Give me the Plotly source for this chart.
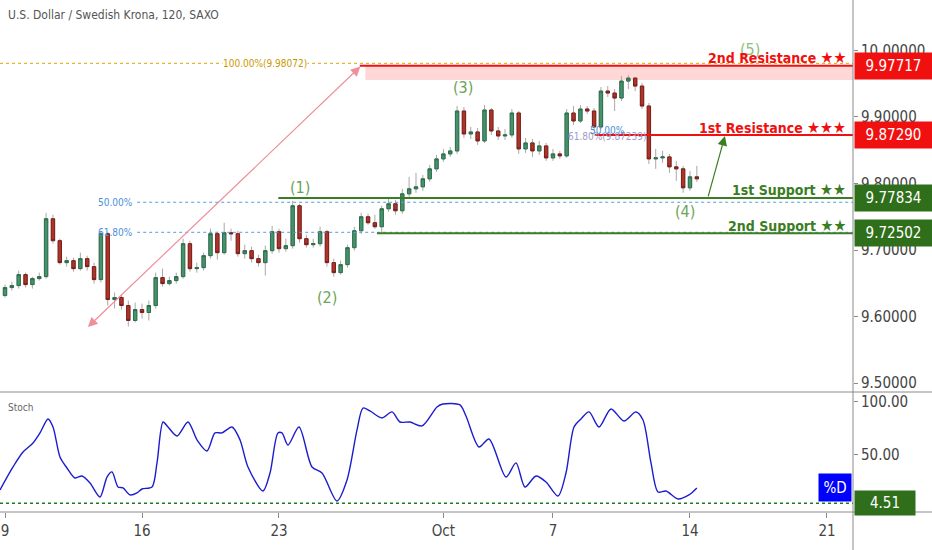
import plotly.graph_objects as go

# USD/SEK 2h chart, resampled to 6h candles
title_text = "U.S. Dollar / Swedish Krona, 120, SAXO"

bars = list(range(102))
opens = [9.6315, 9.6435, 9.6465, 9.663, 9.648, 9.657, 9.660, 9.747, 9.714, 9.681,
         9.684, 9.672, 9.687, 9.675, 9.6555, 9.7245, 9.6255, 9.6285, 9.6165, 9.594,
         9.6105, 9.606, 9.6165, 9.6585, 9.6495, 9.654, 9.660, 9.7095, 9.672, 9.6735,
         9.6915, 9.7245, 9.696, 9.726, 9.7245, 9.6945, 9.699, 9.687, 9.681, 9.699,
         9.7275, 9.702, 9.7065, 9.7665, 9.717, 9.708, 9.7095, 9.7275, 9.681, 9.666,
         9.678, 9.7035, 9.729, 9.750, 9.741, 9.735, 9.762, 9.7695, 9.759, 9.7845,
         9.792, 9.795, 9.807, 9.822, 9.837, 9.8445, 9.849, 9.909, 9.8745, 9.8775,
         9.864, 9.9105, 9.879, 9.8715, 9.873, 9.906, 9.852, 9.861, 9.849, 9.8565,
         9.8385, 9.8445, 9.8415, 9.906, 9.894, 9.912, 9.909, 9.885, 9.939, 9.936,
         9.9285, 9.954, 9.9585, 9.9465, 9.9165, 9.837, 9.8385, 9.840, 9.825, 9.822,
         9.7935, 9.810]
highs = [9.648, 9.6525, 9.669, 9.666, 9.660, 9.666, 9.756, 9.753, 9.717, 9.690,
         9.6885, 9.696, 9.6915, 9.681, 9.729, 9.7275, 9.636, 9.633, 9.624, 9.621,
         9.6195, 9.624, 9.666, 9.672, 9.660, 9.666, 9.717, 9.714, 9.681, 9.696,
         9.732, 9.7275, 9.741, 9.732, 9.729, 9.708, 9.705, 9.693, 9.7065, 9.7365,
         9.732, 9.717, 9.774, 9.7695, 9.723, 9.717, 9.735, 9.7305, 9.687, 9.684,
         9.708, 9.735, 9.756, 9.7545, 9.753, 9.7665, 9.780, 9.7755, 9.792, 9.810,
         9.816, 9.813, 9.828, 9.843, 9.852, 9.855, 9.9165, 9.915, 9.885, 9.8835,
         9.918, 9.9135, 9.885, 9.882, 9.912, 9.909, 9.8685, 9.867, 9.864, 9.861,
         9.852, 9.849, 9.912, 9.9165, 9.918, 9.9165, 9.9135, 9.945, 9.9465, 9.942,
         9.9615, 9.963, 9.960, 9.951, 9.921, 9.852, 9.849, 9.8445, 9.834, 9.8265,
         9.819, 9.8265]
lows = [9.6285, 9.639, 9.642, 9.6435, 9.642, 9.654, 9.657, 9.7095, 9.678, 9.675,
        9.6675, 9.669, 9.669, 9.6495, 9.651, 9.6165, 9.612, 9.6105, 9.585, 9.591,
        9.597, 9.594, 9.612, 9.645, 9.6465, 9.6495, 9.657, 9.6675, 9.666, 9.669,
        9.687, 9.6855, 9.693, 9.714, 9.690, 9.687, 9.681, 9.675, 9.6615, 9.6945,
        9.696, 9.6975, 9.702, 9.711, 9.7035, 9.7035, 9.705, 9.675, 9.660, 9.663,
        9.6735, 9.699, 9.7245, 9.738, 9.732, 9.7245, 9.7575, 9.753, 9.7545, 9.780,
        9.786, 9.789, 9.8025, 9.8175, 9.8325, 9.840, 9.8445, 9.8685, 9.867, 9.858,
        9.861, 9.873, 9.8655, 9.8655, 9.8685, 9.8445, 9.846, 9.840, 9.843, 9.834,
        9.834, 9.837, 9.8385, 9.888, 9.891, 9.9045, 9.8805, 9.882, 9.930, 9.909,
        9.924, 9.942, 9.939, 9.912, 9.8295, 9.822, 9.831, 9.816, 9.804, 9.786,
        9.789, 9.8025]
closes = [9.6435, 9.6465, 9.663, 9.648, 9.657, 9.660, 9.747, 9.714, 9.681, 9.684,
          9.672, 9.687, 9.675, 9.6555, 9.7245, 9.6255, 9.6285, 9.6165, 9.594, 9.6105,
          9.606, 9.6165, 9.6585, 9.6495, 9.654, 9.660, 9.7095, 9.672, 9.6735, 9.6915,
          9.7245, 9.696, 9.726, 9.7245, 9.6945, 9.699, 9.687, 9.681, 9.699, 9.7275,
          9.702, 9.7065, 9.7665, 9.717, 9.708, 9.7095, 9.7275, 9.681, 9.666, 9.678,
          9.7035, 9.729, 9.750, 9.741, 9.735, 9.762, 9.7695, 9.759, 9.7845, 9.792,
          9.795, 9.807, 9.822, 9.837, 9.8445, 9.849, 9.909, 9.8745, 9.8775, 9.864,
          9.9105, 9.879, 9.8715, 9.873, 9.906, 9.852, 9.861, 9.849, 9.8565, 9.8385,
          9.8445, 9.8415, 9.906, 9.894, 9.912, 9.909, 9.885, 9.939, 9.936, 9.9285,
          9.954, 9.9585, 9.9465, 9.9165, 9.837, 9.8385, 9.840, 9.825, 9.822, 9.7935,
          9.810, 9.807]

# stochastic %D line
stoch_x = [-0.73, 1.17, 2.63, 4.09, 5.11, 6.28, 7.01, 8.03, 9.05, 10.22,
           11.24, 12.41, 13.87, 14.89, 15.62, 16.5, 17.23, 18.25, 19.27, 20.0,
           21.46, 22.19, 23.07, 23.8, 25.11, 26.72, 28.03, 29.49, 30.66, 31.68,
           33.14, 34.31, 35.47, 37.66, 38.69, 39.85, 40.44, 41.31, 42.92, 44.82,
           46.28, 48.47, 49.93, 51.39, 52.26, 53.28, 55.04, 56.5, 57.66, 59.12,
           60.88, 63.07, 63.94, 66.42, 67.3, 69.2, 70.66, 73.14, 74.6, 75.91,
           77.52, 78.98, 80.73, 81.9, 83.07, 84.09, 85.26, 86.72, 88.47, 90.36,
           92.12, 93.14, 94.31, 95.33, 96.5, 98.25, 99.85, 101.0]
stoch_v = [17.0, 38.7, 52.8, 61.3, 70.8, 84.0, 76.4, 48.1, 37.7, 28.3,
           30.2, 23.6, 10.4, 29.2, 34.0, 19.8, 18.9, 12.3, 14.2, 17.9,
           19.8, 42.5, 81.1, 76.4, 67.9, 81.1, 64.2, 53.8, 70.8, 70.8,
           76.4, 64.2, 38.7, 16.0, 33.0, 70.8, 70.8, 59.4, 76.4, 38.7,
           33.0, 6.6, 26.4, 73.6, 94.3, 91.5, 84.9, 90.6, 81.1, 81.1,
           77.4, 95.3, 98.1, 97.2, 86.8, 57.5, 65.1, 29.2, 42.5, 19.8,
           30.2, 24.5, 11.3, 33.0, 76.4, 84.0, 90.6, 76.4, 93.4, 82.1,
           90.6, 83.0, 42.5, 15.1, 16.0, 8.5, 12.3, 18.9]
stoch_level = 4.51

tick_bars = [0, 20, 40, 64, 80, 100, 120]
tick_text = ["9", "16", "23", "Oct", "7", "14", "21"]
price_ticks = [9.5, 9.6, 9.7, 9.8, 9.9, 10.0]
stoch_ticks = [50, 100]

# support / resistance levels
levels = [9.97717, 9.87290, 9.77834, 9.72502]
level_names = ["2nd Resistance", "1st Resistance", "1st Support", "2nd Support"]
level_stars = ["★★", "★★★", "★★", "★★"]
level_start = [51.8, 86.1, 39.9, 54.3]
zone_start = 52.6
zone_bottom = 9.9556

# fibonacci
fib_top = 9.98072
fib_levels = [9.7718, 9.7266]
fib_names = ["50.00%", "61.80%"]
fib_start = 19.3
fib2_levels = [9.8793, 9.8700]
fib2_names = ["50.00%", "61.80%(9.87239)"]
fib2_x = 87.9

# elliott wave labels
waves = ["(1)", "(2)", "(3)", "(4)", "(5)"]
wave_x = [43.1, 47.0, 66.9, 99.3, 108.8]
wave_y = [9.7947, 9.6293, 9.9436, 9.7586, 10.0008]

pink_arrow = [(12.1, 9.5842), (52.1, 9.978)]
green_arrow = [(102.6, 9.7784), (105.1, 9.8714)]

X_MIN, X_MAX = -0.73, 123.8
NARROW = "Liberation Sans Narrow, DejaVu Sans Condensed, Roboto Condensed, Roboto, sans-serif"
RED = "#f01010"
GREEN = "#3a7d22"
SPLIT = 120 / 512

fig = go.Figure()

# grey wicks underneath, coloured bodies on top
fig.add_trace(go.Candlestick(
    x=bars, open=opens, high=highs, low=lows, close=closes,
    increasing=dict(line=dict(color="#a8a8a8", width=1), fillcolor="#a8a8a8"),
    decreasing=dict(line=dict(color="#a8a8a8", width=1), fillcolor="#a8a8a8"),
    whiskerwidth=0, showlegend=False, hoverinfo="skip"))
fig.add_trace(go.Candlestick(
    x=bars, open=opens, close=closes,
    high=[max(o, c) for o, c in zip(opens, closes)],
    low=[min(o, c) for o, c in zip(opens, closes)],
    increasing=dict(line=dict(color="#2f6e4c", width=1), fillcolor="#44936a"),
    decreasing=dict(line=dict(color="#7a1f1a", width=1), fillcolor="#b03328"),
    whiskerwidth=0, showlegend=False))

fig.add_trace(go.Scatter(
    x=stoch_x, y=stoch_v, yaxis="y2", mode="lines",
    line=dict(color="#1c1ccf", width=1.4, shape="spline", smoothing=0.8),
    showlegend=False))

shapes = []
shapes.append(dict(type="rect", xref="x", yref="y", x0=zone_start, x1=X_MAX,
                   y0=zone_bottom, y1=levels[0], fillcolor="rgba(255,140,140,0.35)",
                   line=dict(width=0), layer="below"))
shapes.append(dict(type="line", xref="x", yref="y", x0=X_MIN, x1=X_MAX, y0=fib_top, y1=fib_top,
                   line=dict(color="#d9a400", width=1, dash="dot")))
for lv in fib_levels:
    shapes.append(dict(type="line", xref="x", yref="y", x0=fib_start, x1=X_MAX, y0=lv, y1=lv,
                       line=dict(color="#5b9bd5", width=1, dash="dot")))
for i, lv in enumerate(levels):
    shapes.append(dict(type="line", xref="x", yref="y", x0=level_start[i], x1=X_MAX, y0=lv, y1=lv,
                       line=dict(color=RED if i < 2 else GREEN, width=2)))
shapes.append(dict(type="line", xref="x", yref="y2", x0=X_MIN, x1=X_MAX,
                   y0=stoch_level, y1=stoch_level,
                   line=dict(color="#1e7a1e", width=1.5, dash="dot")))
# pane frame
shapes.append(dict(type="line", xref="paper", yref="paper", x0=0, x1=932 / 853, y0=SPLIT, y1=SPLIT,
                   line=dict(color="#8a8a8a", width=1)))
shapes.append(dict(type="line", xref="paper", yref="paper", x0=0, x1=932 / 853, y0=0, y1=0,
                   line=dict(color="#8a8a8a", width=1)))
shapes.append(dict(type="line", xref="paper", yref="paper", x0=1, x1=1, y0=-38 / 512, y1=1,
                   line=dict(color="#8a8a8a", width=1)))

ann = []
ann.append(dict(text=title_text, xref="paper", yref="paper", x=0.007, y=1 - 15 / 512,
                xanchor="left", yanchor="middle", showarrow=False,
                font=dict(family=NARROW, size=12, color="#555555")))
ann.append(dict(text="Stoch", xref="paper", yref="paper", x=0.007, y=(512 - 407) / 512,
                xanchor="left", yanchor="middle", showarrow=False,
                font=dict(family=NARROW, size=10, color="#666666")))
ann.append(dict(text="100.00%(9.98072)", xref="x", yref="y", x=37.9, y=fib_top,
                showarrow=False, bgcolor="white", borderpad=0,
                font=dict(family=NARROW, size=10, color="#c99a00")))
for name, lv in zip(fib_names, fib_levels):
    ann.append(dict(text=name, xref="x", yref="y", x=fib_start - 0.3, y=lv, xanchor="right",
                    showarrow=False, font=dict(family=NARROW, size=10, color="#4a8fd9")))
ann.append(dict(text=fib2_names[1], xref="x", yref="y", x=fib2_x, y=fib2_levels[1],
                showarrow=False, font=dict(family=NARROW, size=10, color="#9b9bc9")))
ann.append(dict(text=fib2_names[0], xref="x", yref="y", x=fib2_x, y=fib2_levels[0],
                showarrow=False, font=dict(family=NARROW, size=10, color="#4a8fd9")))
for i, (w, wx, wy) in enumerate(zip(waves, wave_x, wave_y)):
    ann.append(dict(text=w, xref="x", yref="y", x=wx, y=wy, showarrow=False,
                    font=dict(family=NARROW, size=16, color="#8cbf79" if i == 4 else "#6aa556")))
for i, (name, stars, lv) in enumerate(zip(level_names, level_stars, levels)):
    col = RED if i < 2 else GREEN
    label = f"<b>{name} <span style='font-size:16px'>{stars}</span></b>"
    ann.append(dict(text=label, xref="paper", yref="y", x=848 / 853, y=lv,
                    xanchor="right", yanchor="middle", yshift=8, showarrow=False,
                    font=dict(family=NARROW, size=14, color=col)))
    ann.append(dict(text=f"{lv:.5f}", xref="paper", yref="y", x=1, xshift=1, y=lv,
                    xanchor="left", yanchor="middle", showarrow=False,
                    bgcolor=RED if i < 2 else "#2f6e1a", width=75, height=24,
                    font=dict(family=NARROW, size=15, color="white")))
ann.append(dict(text=f"{stoch_level:.2f}", xref="paper", yref="y2", x=1, xshift=1, y=stoch_level,
                xanchor="left", yanchor="middle", showarrow=False,
                bgcolor="#2f6e1a", width=58, height=22,
                font=dict(family=NARROW, size=15, color="white")))
ann.append(dict(text="%D", xref="paper", yref="y2", x=1, xshift=-1, y=stoch_v[-1],
                xanchor="right", yanchor="middle", showarrow=False,
                bgcolor="#0000ff", width=30, height=25,
                font=dict(family=NARROW, size=15, color="white")))
# trend arrows
ann.append(dict(text="", xref="x", yref="y", axref="x", ayref="y",
                x=pink_arrow[0][0], y=pink_arrow[0][1], ax=pink_arrow[1][0], ay=pink_arrow[1][1],
                showarrow=True, arrowhead=2, startarrowhead=2, arrowside="end+start",
                arrowsize=1.6, arrowwidth=1.2, arrowcolor="#ef8f9a"))
ann.append(dict(text="", xref="x", yref="y", axref="x", ayref="y",
                x=green_arrow[1][0], y=green_arrow[1][1], ax=green_arrow[0][0], ay=green_arrow[0][1],
                showarrow=True, arrowhead=2, arrowsize=1.6, arrowwidth=1.2, arrowcolor=GREEN))

fig.update_layout(
    width=932, height=550,
    margin=dict(l=0, r=79, t=0, b=38),
    paper_bgcolor="white", plot_bgcolor="white",
    shapes=shapes, annotations=ann,
    xaxis=dict(range=[X_MIN, X_MAX], anchor="y2", tickvals=tick_bars, ticktext=tick_text,
               showgrid=False, zeroline=False, showline=False, ticks="outside", ticklen=5,
               tickcolor="#8a8a8a", rangeslider=dict(visible=False),
               tickfont=dict(family=NARROW, size=15, color="#444444")),
    yaxis=dict(domain=[SPLIT, 1], range=[9.4865, 10.0759], side="right", anchor="x",
               tickvals=price_ticks, tickformat=".5f", showgrid=False, zeroline=False,
               ticks="outside", ticklen=4, tickcolor="#8a8a8a",
               tickfont=dict(family=NARROW, size=15, color="#444444")),
    yaxis2=dict(domain=[0, SPLIT], range=[-3.8, 109.4], side="right", anchor="x",
                tickvals=stoch_ticks, tickformat=".2f", showgrid=False, zeroline=False,
                ticks="outside", ticklen=4, tickcolor="#8a8a8a",
                tickfont=dict(family=NARROW, size=15, color="#444444")),
)

# the page's default body margin would push the chart 8px down and right
fig.write_html("out.html", config={"displayModeBar": False},
               post_script="document.body.style.margin = '0';")
